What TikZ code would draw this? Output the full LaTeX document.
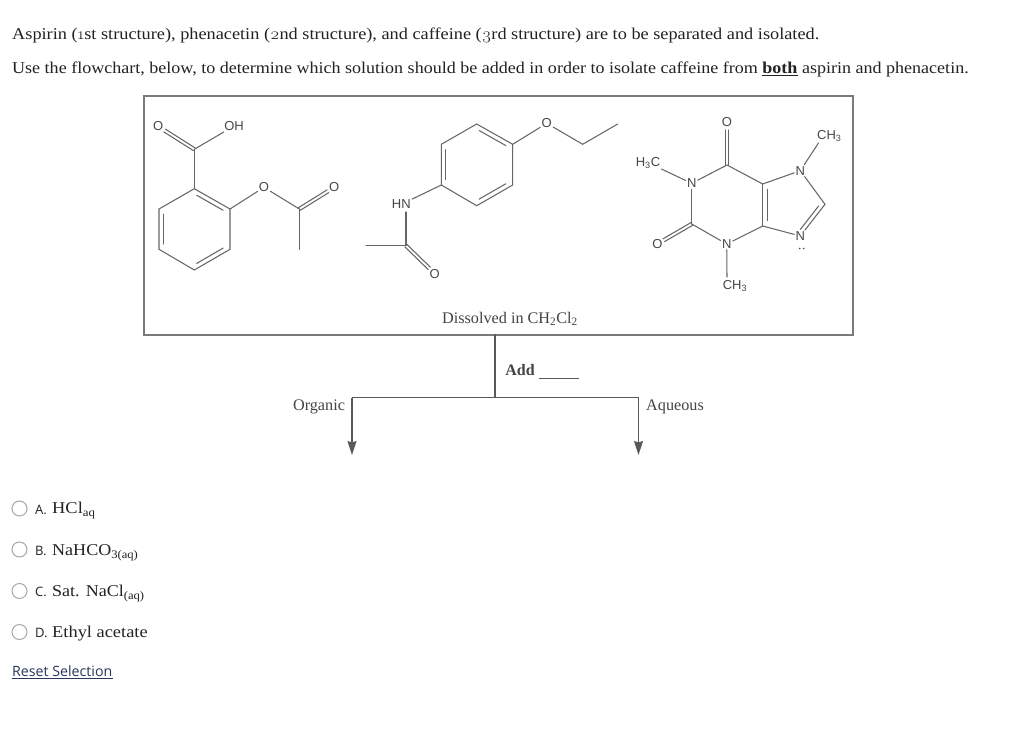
\documentclass[tikz,border=0pt]{standalone}
\usepackage{fontspec}
\setmainfont{Liberation Serif}
\newfontfamily\geo[FakeStretch=1.115]{Liberation Serif}
\newfontfamily\geoa[FakeStretch=1.108]{Liberation Serif}
\newfontfamily\geob[FakeStretch=1.093]{Liberation Serif}
\newfontfamily\osf[Numbers=OldStyle,FakeStretch=1.1]{Latin Modern Roman}
\newfontfamily\ui{Open Sans}
\newfontfamily\chem{Liberation Sans}
\usetikzlibrary{arrows.meta,calc}
\definecolor{bondc}{HTML}{666666}
\definecolor{framec}{HTML}{7A7A7A}
\definecolor{textc}{HTML}{222222}
\definecolor{linkc}{HTML}{26365C}
\definecolor{radioc}{HTML}{A8A8A8}
\tikzset{
  x=1pt,y=-1pt,
  qtext/.style={anchor=base west,inner sep=0pt,text=textc},
  opttext/.style={anchor=base west,inner sep=0pt,text=textc,font=\geo\fontsize{16.5}{16.5}\selectfont},
  opttextb/.style={anchor=base west,inner sep=0pt,text=textc,font=\geob\fontsize{16.5}{16.5}\selectfont},
  optlab/.style={anchor=base west,inner sep=0pt,text=textc,font=\ui\fontsize{13}{13}\selectfont},
  flowtext/.style={anchor=base,inner sep=0pt,text=textc!85!white,font=\fontsize{16.2}{16.2}\selectfont},
  atom/.style={inner sep=1.2pt,text=bondc!70!black,font=\chem\fontsize{13}{13}\selectfont},
  bond/.style={draw=bondc,line width=1.05pt,line cap=round},
  frameline/.style={draw=framec,line width=1.6pt},
  flowline/.style={draw=black!65,line width=1.3pt},
  flowarrow/.style={flowline,-{Stealth[length=14pt,width=9pt,inset=1.5pt]}},
  radio/.style={circle,draw=radioc,line width=1pt,minimum size=15pt,inner sep=0pt},
  lonedot/.style={circle,fill=bondc!70!black,inner sep=0pt,minimum size=1.8pt},
}
\newcommand{\inbond}[3][4.5pt]{\draw[bond] ($(#2)!0.13!(#3)!#1!90:(#3)$) -- ($(#3)!0.13!(#2)!#1!-90:(#2)$);}
% carbonyl: two parallel lines, ending short of the O label
\newcommand{\twobond}[2]{\draw[bond,shorten >=7.5pt] ($(#1)!1.6pt!90:(#2)$) -- ($(#2)!1.6pt!-90:(#1)$);\draw[bond,shorten >=7.5pt] ($(#1)!1.6pt!-90:(#2)$) -- ($(#2)!1.6pt!90:(#1)$);}
\begin{document}
\begin{tikzpicture}
\useasboundingbox (0,0) rectangle (1024,730);
\fill[white] (0,0) rectangle (1024,730);

% question
\node[qtext,font=\geoa\fontsize{16.5}{16.5}\selectfont] (q1) at (12,39.6) {Aspirin ({\osf 1}st structure), phenacetin ({\osf 2}nd structure), and caffeine ({\osf 3}rd structure) are to be separated and isolated.};
\node[qtext,font=\geob\fontsize{16.5}{16.5}\selectfont] (q2) at (12,73.6) {Use the flowchart, below, to determine which solution should be added in order to isolate caffeine from \underline{\textbf{both}} aspirin and phenacetin.};

% frame
\node[frameline,draw,minimum width=709pt,minimum height=239pt,inner sep=0pt,anchor=north west] (frame) at (143,95) {};

% aspirin
\coordinate (a1) at (194.3,188.7);
\coordinate (a2) at (230,209);
\coordinate (a3) at (230,249.3);
\coordinate (a4) at (194.3,270);
\coordinate (a5) at (159,249.3);
\coordinate (a6) at (159,209);
\coordinate (ac) at (194.3,149.3);
\node[atom] (ao) at (158.3,126.5) {O};
\node[atom] (aoh) at (234,126) {OH};
\node[atom] (aoe) at (264,187.3) {O};
\coordinate (ace) at (299.3,209);
\node[atom] (aoc) at (334.3,187.3) {O};
\coordinate (ame) at (299.3,249.3);
\draw[bond] (a1)--(a2)--(a3)--(a4)--(a5)--(a6)--cycle;
\inbond{a2}{a1}
\inbond{a4}{a3}
\inbond{a6}{a5}
\draw[bond] (a1)--(ac);
\twobond{ac}{ao}
\draw[bond] (ac)--(aoh);
\draw[bond] (a2)--(aoe);
\draw[bond] (aoe)--(ace);
\twobond{ace}{aoc}
\draw[bond] (ace)--(ame);

% phenacetin
\coordinate (p1) at (476.7,124);
\coordinate (p2) at (512.7,144.3);
\coordinate (p3) at (512.7,185);
\coordinate (p4) at (476.7,205.7);
\coordinate (p5) at (441.3,185);
\coordinate (p6) at (441.3,144.3);
\node[atom] (po) at (546.7,123.3) {O};
\coordinate (pch2) at (582.7,144.3);
\coordinate (pch3) at (617.7,124);
\node[atom] (phn) at (401.3,204.3) {HN};
\coordinate (pnb) at (406,212);
\coordinate (pc) at (406,245.7);
\coordinate (pme) at (366,245.7);
\node[atom] (poc) at (434.7,273.7) {O};
\draw[bond] (p1)--(p2)--(p3)--(p4)--(p5)--(p6)--cycle;
\inbond{p2}{p1}
\inbond{p4}{p3}
\inbond{p6}{p5}
\draw[bond] (p2)--(po);
\draw[bond] (po)--(pch2)--(pch3);
\draw[bond] (p5)--(phn);
\draw[bond] (pnb)--(pc);
\draw[bond] (pc)--(pme);
\twobond{pc}{poc}

% caffeine
\node[atom] (co6) at (727,122.3) {O};
\coordinate (c6) at (727,165);
\node[atom] (n1) at (691.7,183.3) {N};
\node[atom] (cme1) at (648,162.7) {H\textsubscript{3}C};
\coordinate (c2) at (691.7,224);
\node[atom] (co2) at (657.3,244) {O};
\node[atom] (n3) at (726.7,244) {N};
\node[atom] (cme3) at (735,286) {CH\textsubscript{3}};
\coordinate (cb3) at (727,277);
\coordinate (c4) at (762.7,226);
\coordinate (c5) at (762.7,184);
\node[atom] (n7) at (800.3,170.7) {N};
\node[atom] (cme7) at (829.3,135.7) {CH\textsubscript{3}};
\coordinate (cb7) at (818.5,143);
\coordinate (c8) at (825,204.3);
\node[atom] (n9) at (800.3,236) {N};
\node[lonedot] (d1) at (799.7,248.5) {};
\node[lonedot] (d2) at (803.7,248.5) {};
\twobond{c6}{co6}
\draw[bond] (c6)--(n1);
\draw[bond] (n1)--(cme1);
\draw[bond] (n1)--(c2);
\twobond{c2}{co2}
\draw[bond] (c2)--(n3);
\draw[bond] (n3)--(cb3);
\draw[bond] (n3)--(c4);
\draw[bond] (c4)--(c5);
\inbond{c5}{c4}
\draw[bond] (c5)--(c6);
\draw[bond] (c5)--(n7);
\draw[bond] (n7)--(cb7);
\draw[bond] (n7)--(c8);
\draw[bond] (c8)--(n9);
\inbond[-4pt]{c8}{n9}
\draw[bond] (n9)--(c4);

% flow
\node[flowtext] (diss) at (510,323) {Dissolved in CH\textsubscript{2}Cl\textsubscript{2}};
\coordinate (top) at (495,334);
\coordinate (mid) at (495,397.5);
\coordinate (orgc) at (352,397.5);
\coordinate (aqc) at (638.5,397.5);
\coordinate (orge) at (352,455);
\coordinate (aqe) at (638.5,455);
\draw[flowline] (top)--(mid);
\draw[flowline] (orgc)--(aqc);
\draw[flowarrow] (orgc)--(orge);
\draw[flowarrow] (aqc)--(aqe);
\node[flowtext,font=\bfseries\fontsize{16}{16}\selectfont] (add) at (520,375) {Add};
\coordinate (bl1) at (538.7,378.5);
\coordinate (bl2) at (579,378.5);
\draw[flowline,line width=0.9pt] (bl1)--(bl2);
\node[flowtext] (org) at (319,410) {Organic};
\node[flowtext] (aq) at (675,410) {Aqueous};

% options
\node[radio] (ra) at (19.5,508.5) {};
\node[radio] (rb) at (19.5,549.5) {};
\node[radio] (rc) at (19.5,591) {};
\node[radio] (rd) at (19.5,632) {};
\node[optlab] (la) at (35,514) {A.};
\node[optlab] (lb) at (35,555) {B.};
\node[optlab] (lc) at (35,596) {C.};
\node[optlab] (ld) at (35,637) {D.};
\node[opttext] (ta) at (52,513.5) {HCl\textsubscript{aq}};
\node[opttextb] (tb) at (52,555.5) {NaHCO\textsubscript{3(aq)}};
\node[opttextb] (tc) at (52,596.5) {Sat. NaCl\textsubscript{(aq)}};
\node[opttext] (td) at (52,637.5) {Ethyl acetate};
\node[anchor=base west,inner sep=0pt,text=linkc,font=\ui\fontsize{14.2}{14.2}\selectfont] (reset) at (12,676) {Reset Selection};
\coordinate (ul1) at (12,678);
\coordinate (ul2) at (112.5,678);
\draw[draw=linkc,line width=0.9pt] (ul1)--(ul2);
\end{tikzpicture}
\end{document}
